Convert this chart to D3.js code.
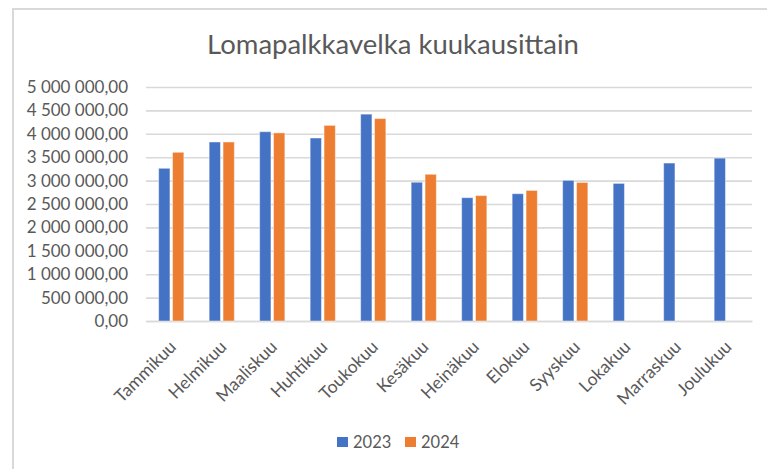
<!DOCTYPE html>
<html>
<head>
<meta charset="utf-8">
<script src="https://cdn.jsdelivr.net/npm/d3@7"></script>
<style>
  html, body { margin: 0; padding: 0; background: #fff; }
  svg { display: block; }
  text { font-family: Lato, "Open Sans", sans-serif; fill: #595959; }
</style>
</head>
<body>
<svg id="chart" width="767" height="469"></svg>
<script>
const title = "Lomapalkkavelka kuukausittain";
const months = ["Tammikuu","Helmikuu","Maaliskuu","Huhtikuu","Toukokuu","Kesäkuu","Heinäkuu","Elokuu","Syyskuu","Lokakuu","Marraskuu","Joulukuu"];
const seriesNames = ["2023", "2024"];
const values2023 = [3263000, 3825000, 4045000, 3910000, 4420000, 2965000, 2635000, 2720000, 3005000, 2940000, 3375000, 3480000];
const values2024 = [3605000, 3825000, 4020000, 4180000, 4325000, 3135000, 2680000, 2790000, 2960000, null, null, null];
const yTicks = [0, 500000, 1000000, 1500000, 2000000, 2500000, 3000000, 3500000, 4000000, 4500000, 5000000];
const colors = ["#4472C4", "#ED7D31"];

const svg = d3.select("#chart");

// frame (left and top borders)
svg.append("path")
  .attr("d", "M13,469 L13,9 L767,9")
  .attr("fill", "none").attr("stroke", "#D9D9D9").attr("stroke-width", 2);

const plot = { left: 146, right: 752, top: 87, bottom: 321 };

const x = d3.scaleBand().domain(months).range([plot.left, plot.right]).padding(0);
const y = d3.scaleLinear().domain([0, 5000000]).range([plot.bottom, plot.top]);

const fmt = v => {
  const s = d3.format(",.2f")(v);
  return s.replace(/,/g, " ").replace(".", ",");
};

// gridlines
const yAxis = d3.axisLeft(y).tickValues(yTicks).tickSize(-(plot.right - plot.left)).tickFormat(fmt).tickPadding(18);
const gy = svg.append("g").attr("transform", `translate(${plot.left},0)`).call(yAxis);
gy.select(".domain").remove();
gy.selectAll(".tick line").attr("stroke", "#D9D9D9").attr("stroke-width", 1.6);
gy.selectAll(".tick text").style("font-size", "17px").attr("fill", "#595959");

// x axis
const xAxis = d3.axisBottom(x).tickSize(0).tickSizeOuter(0);
const gx = svg.append("g").attr("transform", `translate(0,${plot.bottom})`).call(xAxis);
gx.select(".domain").attr("stroke", "#D9D9D9").attr("stroke-width", 1.6);
gx.selectAll(".tick text")
  .style("font-size", "17.5px")
  .attr("fill", "#595959")
  .attr("text-anchor", "end")
  .attr("dy", 0)
  .attr("transform", "translate(6,27) rotate(-45)")
  .attr("y", 0).attr("x", 0);

// bars
const barW = 11.3, gap = 2.6;
const data = [values2023, values2024];
data.forEach((vals, si) => {
  const offset = si === 0 ? -(gap / 2 + barW) : gap / 2;
  svg.append("g").selectAll("rect")
    .data(months.map((m, i) => ({ m, v: vals[i] })).filter(d => d.v != null))
    .join("rect")
    .attr("x", d => x(d.m) + x.bandwidth() / 2 + offset)
    .attr("y", d => y(d.v))
    .attr("width", barW)
    .attr("height", d => y(0) - y(d.v))
    .attr("fill", colors[si])
    .attr("stroke", "#ffffff").attr("stroke-opacity", 0.45).attr("stroke-width", 1);
});

// title
svg.append("text")
  .attr("x", 393).attr("y", 54)
  .attr("text-anchor", "middle")
  .style("font-size", "27.5px")
  .text(title);

// legend
const legend = svg.append("g");
const legendX = [337, 405];
seriesNames.forEach((n, i) => {
  legend.append("rect").attr("x", legendX[i]).attr("y", 437).attr("width", 11).attr("height", 10).attr("fill", colors[i]);
  legend.append("text").attr("x", legendX[i] + 16).attr("y", 448).style("font-size", "16.5px").text(n);
});
</script>
</body>
</html>
